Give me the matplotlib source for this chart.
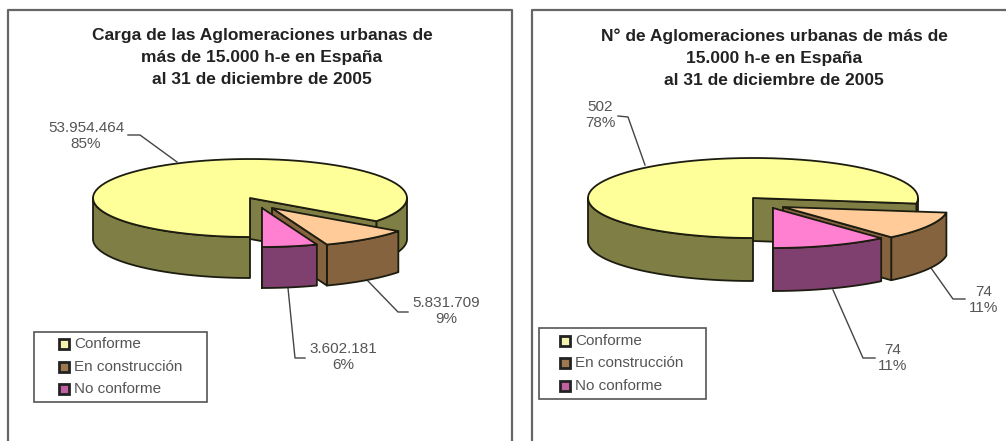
import numpy as np
import matplotlib
matplotlib.use("Agg")
import matplotlib.pyplot as plt
from matplotlib.patches import Polygon, Rectangle

plt.rcParams['font.family'] = ['Liberation Sans', 'DejaVu Sans']

categories = ["Conforme", "En construcción", "No conforme"]

carga_values = [53954464, 5831709, 3602181]
carga_labels = ["53.954.464\n85%", "5.831.709\n9%", "3.602.181\n6%"]
carga_title = "Carga de las Aglomeraciones urbanas de\nmás de 15.000 h-e en España\nal 31 de diciembre de 2005"

num_values = [502, 74, 74]
num_labels = ["502\n78%", "74\n11%", "74\n11%"]
num_title = "N° de Aglomeraciones urbanas de más de\n15.000 h-e en España\nal 31 de diciembre de 2005"

top_colors = ["#FFFF99", "#FFCC99", "#FF80D0"]
wall_colors = ["#7F7F45", "#86633F", "#80406F"]
legend_colors = ["#F4F4B0", "#A07850", "#C060A0"]
EDGE = "#1c1c10"
TEXT = "#555555"
FRAME = "#666666"


def arc(c, rx, ry, a0, a1):
    t = np.radians(np.linspace(a0, a1, 80))
    return np.column_stack([c[0] + rx * np.cos(t), c[1] - ry * np.sin(t)])


def poly(ax, xy, color, z):
    ax.add_patch(Polygon(xy, closed=True, fc=color, ec=EDGE, lw=1.3, joinstyle="round", zorder=z))


def draw_pie(ax, values, center, rx, ry, depth, offsets):
    fracs = np.array(values) / sum(values)
    # pie starts at the bottom and runs clockwise
    start = -90.0
    for i, frac in enumerate(fracs):
        end = start - 360.0 * frac
        c = (center[0] + offsets[i][0], center[1] + offsets[i][1])
        c_low = (c[0], c[1] + depth)
        z = 2 + i * 2

        # the big slice wraps round the back, so only two bits of its rim show
        spans = [(-90, -180), (-360, end)] if i == 0 else [(start, end)]
        for s, e in spans:
            poly(ax, np.vstack([arc(c, rx, ry, s, e), arc(c_low, rx, ry, e, s)]), wall_colors[i], z)

        # cut face at the clockwise end of the slice
        p = arc(c, rx, ry, end, end)[0]
        poly(ax, [c, p, p + [0, depth], c_low], wall_colors[i], z)

        poly(ax, np.vstack([[c], arc(c, rx, ry, start, end)]), top_colors[i], z + 1)
        start = end


def draw_panel(ax, values, labels, title, center, rx, ry, depth, offsets, title_xy,
               label_xy, leaders, legend_box, swatch_x, text_x, legend_y):
    ax.text(title_xy[0], title_xy[1], title, ha="center", va="top", fontsize=12.5, fontweight="bold",
            color="#222222", linespacing=1.6, zorder=20)
    draw_pie(ax, values, center, rx, ry, depth, offsets)
    for lab, xy, lead in zip(labels, label_xy, leaders):
        ax.text(xy[0], xy[1], lab, ha="center", va="center", fontsize=11, color=TEXT, linespacing=1.2, zorder=20)
        ax.plot([p[0] for p in lead], [p[1] for p in lead], color="#444444", lw=1.0, zorder=1)
    x0, y0, x1, y1 = legend_box
    ax.add_patch(Rectangle((x0, y0), x1 - x0, y1 - y0, fc="white", ec="#555555", lw=1.2, zorder=10))
    for name, col, y in zip(categories, legend_colors, legend_y):
        ax.add_patch(Rectangle((swatch_x - 5, y - 5), 10, 10, fc=col, ec="#222222", lw=2.0, zorder=11))
        ax.text(text_x, y, name, ha="left", va="center", fontsize=11, color=TEXT, zorder=11)


fig = plt.figure(figsize=(10.06, 4.41), dpi=100)
ax = fig.add_axes([0, 0, 1, 1])
ax.set_xlim(0, 1006)
ax.set_ylim(441, 0)
ax.axis("off")

# panel frames run off the bottom of the picture (and the right one off the side)
ax.plot([8.5, 8.5, 512.5, 512.5], [441, 10, 10, 441], color=FRAME, lw=1.6)
ax.plot([532.5, 532.5, 1006], [441, 10, 10], color=FRAME, lw=1.6)

draw_panel(ax, carga_values, carga_labels, carga_title,
           center=(250, 198), rx=157, ry=39, depth=41,
           offsets=[(0, 0), (22, 10), (12, 10)],
           title_xy=(262, 28),
           label_xy=[(86, 136), (446, 311), (343, 357)],
           leaders=[[(128, 135), (140, 135), (177, 162)],
                    [(408, 312), (398, 312), (367, 280)],
                    [(305, 358), (295, 358), (288, 288)]],
           legend_box=(34, 332, 207, 402), swatch_x=64, text_x=74, legend_y=[344, 367, 389])

draw_panel(ax, num_values, num_labels, num_title,
           center=(753, 198), rx=165, ry=40, depth=43,
           offsets=[(0, 0), (30, 9), (20, 10)],
           title_xy=(774, 28),
           label_xy=[(600, 115), (984, 300), (893, 358)],
           leaders=[[(618, 116), (628, 117), (645, 165)],
                    [(965, 299), (953, 299), (931, 268)],
                    [(875, 358), (863, 358), (833, 290)]],
           legend_box=(539, 328, 706, 399), swatch_x=565, text_x=575, legend_y=[341, 363, 386])

fig.savefig("out.png", dpi=100)
